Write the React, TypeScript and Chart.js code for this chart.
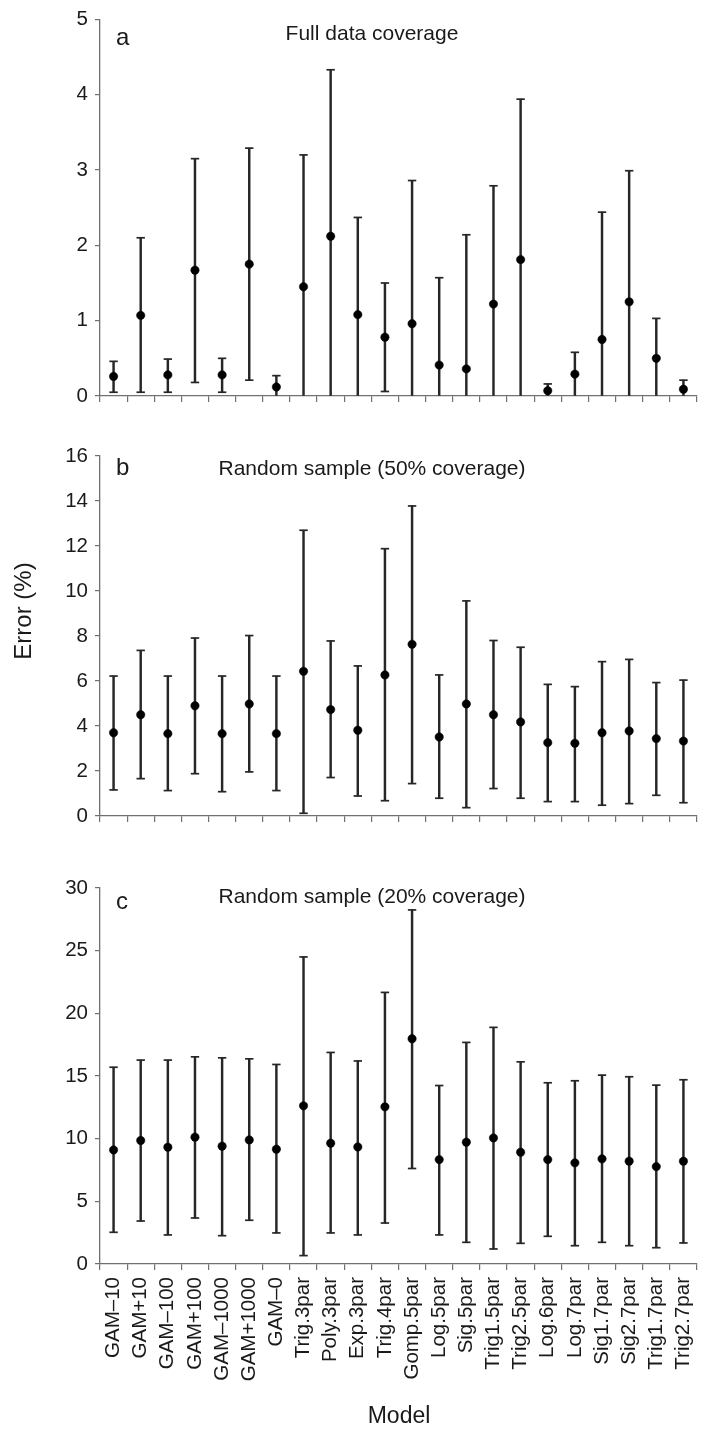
import React, { useEffect, useRef } from "react";
import { Chart, registerables } from "chart.js";

Chart.register(...registerables);

// ---------- data ----------
const models = [
  "GAM–10", "GAM+10", "GAM–100", "GAM+100", "GAM–1000", "GAM+1000", "GAM–0",
  "Trig.3par", "Poly.3par", "Exp.3par", "Trig.4par", "Gomp.5par", "Log.5par",
  "Sig.5par", "Trig1.5par", "Trig2.5par", "Log.6par", "Log.7par", "Sig1.7par",
  "Sig2.7par", "Trig1.7par", "Trig2.7par",
];

// (a) Full data coverage
const fullMean = [0.26, 1.07, 0.28, 1.67, 0.28, 1.75, 0.12, 1.45, 2.12, 1.08, 0.78, 0.96, 0.41, 0.36, 1.22, 1.81, 0.07, 0.29, 0.75, 1.25, 0.5, 0.09];
const fullLow = [0.05, 0.05, 0.05, 0.18, 0.05, 0.21, 0, 0, 0, 0, 0.06, 0, 0, 0, 0, 0, 0, 0, 0, 0, 0, 0];
const fullHigh = [0.46, 2.1, 0.49, 3.15, 0.5, 3.29, 0.27, 3.2, 4.33, 2.37, 1.5, 2.86, 1.57, 2.14, 2.79, 3.94, 0.16, 0.58, 2.44, 2.99, 1.03, 0.21];

// (b) Random sample (50% coverage)
const halfMean = [3.7, 4.5, 3.66, 4.9, 3.66, 4.98, 3.66, 6.43, 4.73, 3.81, 6.27, 7.63, 3.51, 4.98, 4.5, 4.18, 3.26, 3.23, 3.7, 3.78, 3.44, 3.33];
const halfLow = [1.16, 1.66, 1.13, 1.88, 1.08, 1.96, 1.13, 0.12, 1.71, 0.89, 0.68, 1.44, 0.79, 0.37, 1.22, 0.79, 0.64, 0.64, 0.48, 0.55, 0.92, 0.59];
const halfHigh = [6.22, 7.36, 6.22, 7.91, 6.22, 8.02, 6.22, 12.7, 7.78, 6.67, 11.88, 13.78, 6.27, 9.56, 7.8, 7.5, 5.85, 5.75, 6.86, 6.96, 5.93, 6.04];

// (c) Random sample (20% coverage)
const fifthMean = [9.1, 9.85, 9.32, 10.12, 9.4, 9.9, 9.16, 12.62, 9.64, 9.34, 12.54, 17.97, 8.33, 9.72, 10.06, 8.92, 8.33, 8.07, 8.39, 8.2, 7.77, 8.2];
const fifthLow = [2.53, 3.43, 2.32, 3.67, 2.26, 3.49, 2.48, 0.67, 2.48, 2.32, 3.27, 7.62, 2.32, 1.73, 1.2, 1.65, 2.21, 1.46, 1.73, 1.46, 1.3, 1.68];
const fifthHigh = [15.7, 16.27, 16.27, 16.53, 16.45, 16.37, 15.92, 24.5, 16.88, 16.2, 21.67, 28.25, 14.24, 17.68, 18.88, 16.13, 14.46, 14.62, 15.07, 14.94, 14.27, 14.7];

const panelLetters = ["a", "b", "c"];
const panelTitles = ["Full data coverage", "Random sample (50% coverage)", "Random sample (20% coverage)"];
const yAxisTitle = "Error (%)";
const xAxisTitle = "Model";

// ---------- styling ----------
const FONT = "'Liberation Sans', Arial, Helvetica, sans-serif";
const TEXT = "#1a1a1a";
const AXIS = "#707070";
const BAR = "#262626";

type TextItem = { text: string; x: number; y: number; size: number; align?: CanvasTextAlign; baseline?: CanvasTextBaseline; rotate?: number };

const panelTextPlugin = {
  id: "panelText",
  afterDraw(chart: any, _args: any, opts: any) {
    const ctx: CanvasRenderingContext2D = chart.ctx;
    const items: TextItem[] = (opts && opts.items) || [];
    ctx.save();
    ctx.fillStyle = TEXT;
    for (const it of items) {
      ctx.save();
      ctx.font = `${it.size}px ${FONT}`;
      ctx.textAlign = it.align || "left";
      ctx.textBaseline = it.baseline || "alphabetic";
      ctx.translate(it.x, it.y);
      if (it.rotate) ctx.rotate(it.rotate);
      ctx.fillText(it.text, 0, 0);
      ctx.restore();
    }
    ctx.restore();
  },
};

type PanelCfg = {
  top: number;
  height: number;
  padTop: number;
  xHeight: number;
  max: number;
  step: number;
  mean: number[];
  low: number[];
  high: number[];
  showLabels: boolean;
  texts: TextItem[];
};

const panels: PanelCfg[] = [
  {
    top: 0, height: 420, padTop: 19, xHeight: 24, max: 5, step: 1,
    mean: fullMean, low: fullLow, high: fullHigh, showLabels: false,
    texts: [
      { text: panelLetters[0], x: 116, y: 45, size: 24 },
      { text: panelTitles[0], x: 372, y: 40, size: 21, align: "center" },
    ],
  },
  {
    top: 420, height: 420, padTop: 36, xHeight: 24, max: 16, step: 2,
    mean: halfMean, low: halfLow, high: halfHigh, showLabels: false,
    texts: [
      { text: panelLetters[1], x: 116, y: 55, size: 24 },
      { text: panelTitles[1], x: 372, y: 55, size: 21, align: "center" },
      { text: yAxisTitle, x: 24, y: 191, size: 24, align: "center", baseline: "middle", rotate: -Math.PI / 2 },
    ],
  },
  {
    top: 840, height: 591, padTop: 48, xHeight: 167, max: 30, step: 5,
    mean: fifthMean, low: fifthLow, high: fifthHigh, showLabels: true,
    texts: [
      { text: panelLetters[2], x: 116, y: 69, size: 24 },
      { text: panelTitles[2], x: 372, y: 63, size: 21, align: "center" },
      { text: xAxisTitle, x: 399, y: 577, size: 23, align: "center", baseline: "middle" },
    ],
  },
];

function buildConfig(p: PanelCfg): any {
  const capStyle = {
    type: "line",
    showLine: false,
    pointStyle: "line",
    pointRadius: 4.2,
    pointHoverRadius: 4.2,
    pointBorderWidth: 1.7,
    pointBorderColor: BAR,
    borderColor: BAR,
    order: 2,
    clip: false,
  };
  return {
    type: "bar",
    data: {
      labels: models,
      datasets: [
        {
          type: "line",
          data: p.mean,
          showLine: false,
          pointStyle: "circle",
          pointRadius: 4.2,
          pointHoverRadius: 4.2,
          pointBackgroundColor: "#000",
          pointBorderColor: "#000",
          pointBorderWidth: 0.5,
          order: 0,
          clip: false,
        },
        { ...capStyle, data: p.high },
        { ...capStyle, data: p.low.map((v) => (v > 0 ? v : null)) },
        {
          type: "bar",
          data: p.low.map((v, i) => [v, p.high[i]]),
          backgroundColor: BAR,
          borderWidth: 0,
          barThickness: 1.8,
          order: 3,
        },
      ],
    },
    options: {
      responsive: false,
      animation: false,
      events: [],
      layout: { padding: { top: p.padTop, right: 9, left: 0, bottom: 0 } },
      plugins: {
        legend: { display: false },
        tooltip: { enabled: false },
        panelText: { items: p.texts },
      },
      scales: {
        x: {
          type: "category",
          offset: true,
          grid: {
            offset: true,
            drawOnChartArea: false,
            drawTicks: true,
            tickLength: 6,
            color: AXIS,
            lineWidth: 1.2,
          },
          border: { display: true, color: AXIS, width: 1.3 },
          ticks: p.showLabels
            ? {
                display: true,
                autoSkip: false,
                minRotation: 90,
                maxRotation: 90,
                padding: 7,
                color: TEXT,
                font: { family: FONT, size: 20.5 },
              }
            : { display: false },
          afterFit: (s: any) => {
            s.height = p.xHeight;
            s.paddingLeft = 0;
            s.paddingRight = 0;
          },
        },
        y: {
          min: 0,
          max: p.max,
          ticks: {
            stepSize: p.step,
            padding: 7,
            color: TEXT,
            font: { family: FONT, size: 20.5 },
          },
          grid: {
            drawOnChartArea: false,
            drawTicks: true,
            tickLength: 5,
            color: AXIS,
            lineWidth: 1.2,
          },
          border: { display: true, color: AXIS, width: 1.3 },
          afterFit: (s: any) => {
            s.width = 100;
          },
        },
      },
    },
    plugins: [panelTextPlugin],
  };
}

function Panel({ p }: { p: PanelCfg }) {
  const ref = useRef<HTMLCanvasElement>(null);
  useEffect(() => {
    if (!ref.current) return;
    const chart = new Chart(ref.current, buildConfig(p));
    return () => chart.destroy();
  }, []);
  return (
    <canvas
      ref={ref}
      width={706}
      height={p.height}
      style={{ position: "absolute", left: 0, top: p.top, width: 706, height: p.height, display: "block" }}
    />
  );
}

export default function App() {
  return (
    <div style={{ position: "absolute", left: 0, top: 0, width: 706, height: 1431, background: "#fff", overflow: "hidden" }}>
      {panels.map((p, i) => (
        <Panel key={i} p={p} />
      ))}
    </div>
  );
}
